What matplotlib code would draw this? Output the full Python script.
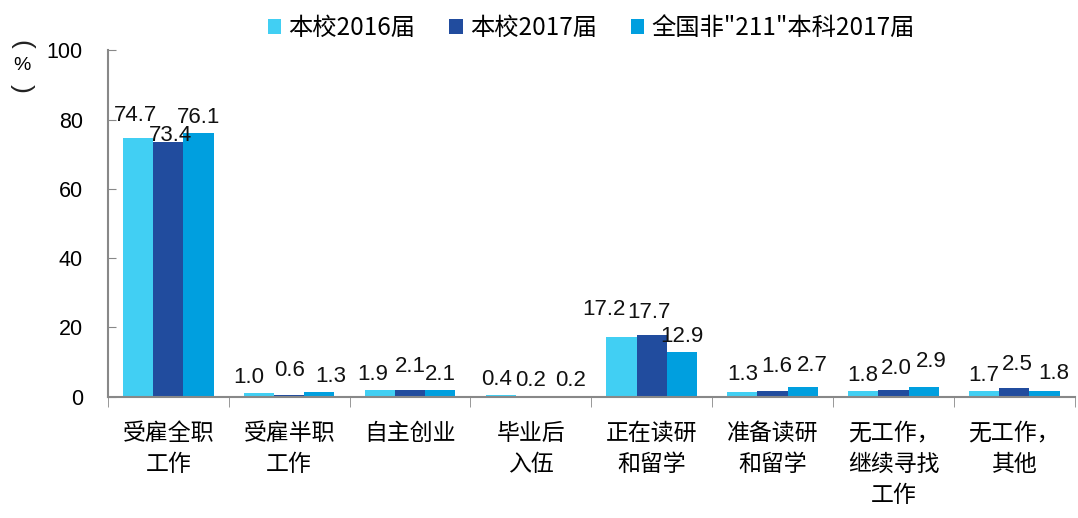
import matplotlib.pyplot as plt
import numpy as np

plt.rcParams['font.family'] = ['Noto Sans CJK SC', 'DejaVu Sans']

categories = ["受雇全职\n工作", "受雇半职\n工作", "自主创业", "毕业后\n入伍",
              "正在读研\n和留学", "准备读研\n和留学", "无工作，\n继续寻找\n工作", "无工作，\n其他"]
series_names = ["本校2016届", "本校2017届", '全国非"211"本科2017届']
school_2016 = [74.7, 1.0, 1.9, 0.4, 17.2, 1.3, 1.8, 1.7]
school_2017 = [73.4, 0.6, 2.1, 0.2, 17.7, 1.6, 2.0, 2.5]
national_2017 = [76.1, 1.3, 2.1, 0.2, 12.9, 2.7, 2.9, 1.8]
colors = ["#41CFF3", "#214C9E", "#009FDF"]

# (dx, dy) pixel nudges for labels that were moved by hand in the original
label_nudge = {(0, 0): (-3, 7), (0, 1): (2, -9), (1, 0): (-10, 0), (1, 1): (0, 9),
               (1, 2): (11, 0), (2, 0): (-7, 0), (2, 1): (0, 8), (3, 0): (-4, 0),
               (3, 2): (9, 0), (4, 0): (-18, 12),
               (4, 1): (-3, 7), (5, 0): (0, 2), (5, 1): (4, 9), (5, 2): (10, 6),
               (6, 1): (3, 6), (6, 2): (8, 10), (7, 1): (3, 8), (7, 2): (9, 2)}

fig = plt.figure(figsize=(10.78, 5.18), dpi=100)
ax = fig.add_axes([0.100, 0.234, 0.897, 0.669])

x = np.arange(len(categories))
w = 0.25
for i, (vals, name) in enumerate(zip([school_2016, school_2017, national_2017], series_names)):
    bars = ax.bar(x + (i - 1) * w, vals, w, color=colors[i], label=name)
    for j, (b, v) in enumerate(zip(bars, vals)):
        dx, dy = label_nudge.get((j, i), (0, 0))
        ax.annotate(f"{v:.1f}", (b.get_x() + b.get_width() / 2, v),
                    xytext=(dx, 10 + dy), textcoords='offset pixels',
                    ha='center', va='baseline', fontsize=16, family='Liberation Sans',
                    color='#111111')

ax.set_xlim(-0.5, len(categories) - 0.5)
ax.set_ylim(0, 100)
ax.set_yticks(range(0, 101, 20))
ax.tick_params(axis='y', labelsize=15.5, direction='in', length=6, color='#888888', pad=18)
for lab in ax.get_yticklabels():
    lab.set_family('Liberation Sans')
ax.set_xticks(x)
ax.set_xticklabels(categories, fontsize=16.5, linespacing=1.45)
ax.tick_params(axis='x', length=0, pad=18)
ax.set_xticks(np.arange(-0.5, len(categories), 1), minor=True)
ax.tick_params(axis='x', which='minor', length=7, direction='out', color='#888888')

for s in ['top', 'right']:
    ax.spines[s].set_visible(False)
for s in ['left', 'bottom']:
    ax.spines[s].set_color('#888888')
    ax.spines[s].set_linewidth(1.5)

# vertical "(%)" label: parentheses turned sideways, % upright
fig.text(0.020, 0.915, "(", rotation=-90, ha='center', va='center', fontsize=19,
         family='Liberation Sans', color='#222222')
fig.text(0.020, 0.873, "%", ha='center', va='center', fontsize=14, family='Liberation Sans')
fig.text(0.020, 0.830, ")", rotation=-90, ha='center', va='center', fontsize=19,
         family='Liberation Sans', color='#222222')

ax.legend(loc='upper center', bbox_to_anchor=(0.5, 1.165), ncol=3, frameon=False,
          fontsize=17.5, handlelength=0.55, handleheight=0.55, handletextpad=0.3, columnspacing=1.4)

fig.savefig("out.png", dpi=100)
